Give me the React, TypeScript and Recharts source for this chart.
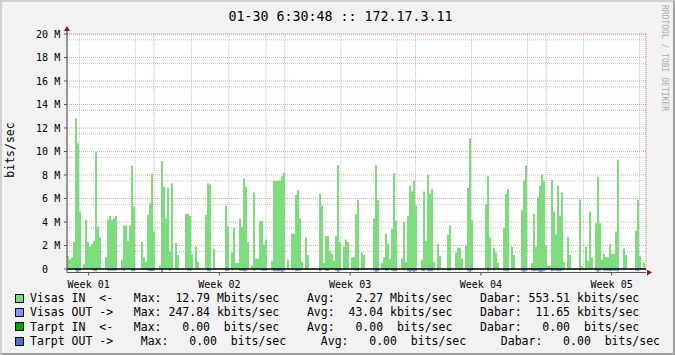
import {
  ComposedChart,
  Area,
  XAxis,
  YAxis,
  CartesianGrid,
  ReferenceLine,
  ReferenceDot,
  Legend,
  Label,
} from 'recharts';

// Visas IN, Mbits/sec, one value per ~2.5 h column
const visasIn = [
  1.1, 0.8, 1.0, 2.3, 12.8, 10.7, 4.9, 0, 0.4, 4.2,
  2.3, 1.9, 2.1, 2.4, 10.0, 3.6, 2.7, 0, 0, 1.0,
  4.2, 4.5, 4.2, 4.3, 4.5, 0, 0, 0.8, 3.7, 3.7,
  2.4, 3.7, 8.8, 5.3, 0, 0, 0, 2.3, 1.0, 0.6,
  4.6, 5.6, 8.1, 3.2, 0, 0, 0.3, 9.2, 7.0, 4.3,
  6.9, 1.5, 7.3, 0, 2.2, 1.2, 0, 0, 0, 4.7,
  4.7, 4.5, 1.3, 0, 1.9, 0.6, 0, 0, 0, 4.6,
  7.3, 7.2, 0, 1.7, 0, 0, 0, 0, 0, 5.4,
  3.6, 0, 1.4, 3.5, 0.5, 0.5, 4.3, 3.6, 7.7, 7.0,
  2.3, 0, 0.3, 6.5, 0.9, 0.9, 4.1, 4.1, 2.1, 2.5,
  0, 0, 0.7, 7.5, 7.5, 7.5, 7.5, 7.9, 8.2, 0,
  0.8, 0, 3.0, 3.0, 6.3, 6.7, 4.3, 0.6, 0, 2.7,
  1.2, 0, 0, 0, 0, 0, 6.4, 5.4, 0.5, 2.8,
  2.8, 1.5, 1.3, 0.7, 2.8, 8.85, 2.3, 0, 1.9, 2.5,
  2.3, 0, 1.0, 1.0, 4.65, 5.9, 0, 1.4, 1.2, 0,
  0, 0, 0, 4.3, 8.85, 5.9, 0, 0.5, 1.0, 3.0,
  2.1, 0.9, 3.4, 8.15, 4.1, 0, 0, 0.9, 4.0, 0.6,
  4.5, 7.1, 6.6, 7.5, 5.4, 0, 0, 0.8, 6.6, 2.4,
  8.0, 6.4, 6.8, 0.6, 0, 2.1, 1.1, 0, 0, 0,
  2.9, 3.7, 0.1, 0, 1.4, 1.8, 1.8, 0.9, 0, 2.0,
  6.9, 11.1, 4.2, 0.1, 0, 0, 0, 0, 0, 5.5,
  7.9, 2.7, 0, 1.8, 1.4, 0.5, 0, 0, 3.5, 6.4,
  6.8, 0, 1.9, 1.2, 0, 0, 0, 5.0, 7.5, 8.8,
  0, 0.1, 0.5, 4.7, 1.9, 6.1, 7.1, 8.05, 7.5, 2.0,
  0.25, 0.25, 7.6, 4.9, 2.95, 7.1, 4.5, 6.5, 0.6, 0,
  2.75, 1.2, 0, 0, 0, 0, 5.9, 0.25, 0, 1.9,
  0.7, 4.9, 1.0, 0, 3.9, 7.8, 3.9, 0.8, 1.3, 1.0,
  1.0, 2.1, 1.3, 1.3, 3.2, 9.3, 0, 0, 1.75, 1.2,
  0, 0, 0, 0, 3.25, 5.9, 1.1, 0, 0.5, 0,
];

// Visas OUT, Mbits/sec (drawn below the zero line)
const visasOut = [
  0, 0, 0, 0, 0.2, 0.25, 0.15, 0, 0, 0,
  0, 0, 0, 0.15, 0.2, 0, 0, 0, 0, 0,
  0.15, 0.15, 0.15, 0.15, 0.15, 0, 0, 0, 0.15, 0,
  0, 0, 0.2, 0.2, 0, 0, 0, 0, 0, 0,
  0.15, 0.2, 0.2, 0.15, 0, 0, 0, 0.25, 0, 0,
  0, 0.15, 0, 0, 0, 0.1, 0, 0, 0, 0,
  0.15, 0.15, 0, 0, 0, 0, 0, 0, 0, 0,
  0.2, 0.2, 0, 0, 0, 0, 0, 0, 0, 0.2,
  0.15, 0, 0.1, 0, 0, 0, 0.15, 0.15, 0.2, 0.2,
  0, 0, 0, 0.15, 0, 0, 0, 0.15, 0.15, 0.15,
  0, 0, 0, 0.2, 0.2, 0.2, 0.2, 0.25, 0.2, 0,
  0, 0, 0.1, 0, 0.2, 0.2, 0.15, 0, 0, 0,
  0, 0, 0, 0, 0, 0, 0.2, 0, 0, 0.15,
  0.15, 0, 0, 0, 0.15, 0.25, 0.15, 0, 0.1, 0,
  0, 0, 0, 0.1, 0.15, 0.2, 0, 0.1, 0, 0,
  0, 0, 0, 0.15, 0.25, 0.2, 0, 0, 0, 0.15,
  0.15, 0, 0.15, 0.2, 0.2, 0, 0, 0, 0.1, 0,
  0.2, 0.25, 0.2, 0.25, 0.2, 0, 0, 0.15, 0.2, 0,
  0.2, 0.2, 0.2, 0, 0, 0.1, 0, 0, 0, 0,
  0.15, 0.15, 0, 0, 0, 0, 0.1, 0, 0, 0,
  0.2, 0.25, 0.15, 0, 0, 0, 0, 0, 0, 0,
  0.2, 0, 0, 0.1, 0, 0, 0, 0, 0.15, 0.2,
  0.2, 0, 0.1, 0, 0, 0, 0, 0.2, 0.25, 0.2,
  0, 0, 0.15, 0.2, 0.15, 0.2, 0.25, 0.25, 0.2, 0,
  0, 0, 0.2, 0.15, 0.15, 0.2, 0.2, 0.15, 0, 0,
  0.1, 0, 0, 0, 0, 0, 0.15, 0, 0, 0.1,
  0, 0, 0, 0, 0.15, 0.25, 0.15, 0, 0.15, 0.15,
  0.15, 0.2, 0.15, 0.15, 0.15, 0.2, 0, 0, 0.1, 0,
  0, 0, 0, 0, 0.15, 0.2, 0, 0, 0, 0,
];

const weekLabels = ['Week 01', 'Week 02', 'Week 03', 'Week 04', 'Week 05'];
const weekLabelDays = [1.16, 8.16, 15.16, 22.16, 29.16];
const weekLineDays = [4.66, 11.66, 18.66, 25.66];
const yTicks = [0, 2, 4, 6, 8, 10, 12, 14, 16, 18, 20];

const legendNames = ['Visas IN  <-', 'Visas OUT ->', 'Tarpt IN  <-', 'Tarpt OUT ->'];
const legendColors = ['#7ddc7d', '#8396ff', '#00a800', '#5072c8'];
const maxVals = ['12.79', '247.84', '0.00', '0.00'];
const maxUnits = ['M', 'k', ' ', ' '];
const avgVals = ['2.27', '43.04', '0.00', '0.00'];
const avgUnits = ['M', 'k', ' ', ' '];
const nowVals = ['553.51', '11.65', '0.00', '0.00'];
const nowUnits = ['k', 'k', ' ', ' '];
const legendPad = [0, 0, 0, 1];

const MONO = "'DejaVu Sans Mono', monospace";
const STEP = 31 / 289.5; // days per column

const dayLines = Array.from({ length: 31 }, (_, k) => 0.66 + k).filter(
  (d) => !weekLineDays.some((w) => Math.abs(w - d) < 0.01)
);
const minorY = Array.from({ length: 40 }, (_, k) => 0.5 + k * 0.5).filter((v) => v % 2 !== 0);

const data = visasIn.map((v, i) => ({ t: i * STEP, in: v, out: -visasOut[i] }));

function legendRow(i: number) {
  const gap = ' '.repeat(4 + legendPad[i]);
  return (
    legendNames[i] +
    ' '.repeat(3 + legendPad[i]) +
    'Max: ' + maxVals[i].padStart(6) + ' ' + maxUnits[i] + 'bits/sec' + gap +
    'Avg: ' + avgVals[i].padStart(6) + ' ' + avgUnits[i] + 'bits/sec' + gap +
    'Dabar: ' + nowVals[i].padStart(6) + ' ' + nowUnits[i] + 'bits/sec'
  );
}

function ValueTick(props: any) {
  const { y, payload } = props;
  const v = payload.value;
  return (
    <g fontFamily={MONO} fontSize={10} fill="#000">
      <text x={48} y={y + 3.6} textAnchor="end">{v}</text>
      {v > 0 && <text x={54.3} y={y + 3.6}>M</text>}
    </g>
  );
}

function WeekTick(props: any) {
  const { x, payload } = props;
  const i = weekLabelDays.indexOf(payload.value);
  return (
    <text x={x} y={288} textAnchor="middle" fontFamily={MONO} fontSize={10} fill="#000">
      {weekLabels[i]}
    </text>
  );
}

function UpArrow(props: any) {
  const { cx, cy } = props;
  return (
    <g>
      <line x1={cx} y1={cy} x2={cx} y2={cy - 4} stroke="#333" />
      <path d={`M${cx - 3},${cy - 3} L${cx + 3},${cy - 3} L${cx},${cy - 8} Z`} fill="#801f1f" />
    </g>
  );
}

function RightArrow(props: any) {
  const { cx, cy } = props;
  return (
    <path d={`M${cx + 1},${cy - 3} L${cx + 1},${cy + 3} L${cx + 6},${cy} Z`} fill="#801f1f" />
  );
}

function LegendBlock() {
  return (
    <div style={{ fontFamily: MONO, fontSize: 11.5, color: '#000' }}>
      {legendNames.map((_, i) => (
        <div key={i} style={{ display: 'flex', alignItems: 'center', height: 14.33 }}>
          <div
            style={{
              marginLeft: 15,
              width: 9,
              height: 9,
              boxSizing: 'border-box',
              border: '1px solid #000',
              background: legendColors[i],
            }}
          />
          <div style={{ marginLeft: 6, whiteSpace: 'pre', lineHeight: '14.33px' }}>{legendRow(i)}</div>
        </div>
      ))}
    </div>
  );
}

export default function App() {
  return (
    <div
      style={{
        position: 'absolute',
        left: 0,
        top: 0,
        width: 675,
        height: 355,
        background: '#f2f2f2',
        overflow: 'hidden',
      }}
    >
      <ComposedChart
        width={675}
        height={355}
        data={data}
        margin={{ top: 34, right: 29, bottom: 62.5, left: 0 }}
      >
        <XAxis xAxisId="day" type="number" dataKey="t" domain={[0, 31]} ticks={dayLines} hide allowDataOverflow />
        <XAxis xAxisId="week" type="number" dataKey="t" domain={[0, 31]} ticks={weekLineDays} hide allowDataOverflow />
        <XAxis
          type="number"
          dataKey="t"
          domain={[0, 31]}
          ticks={weekLabelDays}
          interval={0}
          height={20}
          tickSize={3}
          tick={<WeekTick />}
          axisLine={{ stroke: '#555' }}
          tickLine={{ stroke: '#555' }}
          allowDataOverflow
        />
        <YAxis yAxisId="minor" type="number" domain={[-0.3, 20]} ticks={minorY} hide allowDataOverflow />
        <YAxis
          type="number"
          domain={[-0.3, 20]}
          ticks={yTicks}
          interval={0}
          width={67}
          tickSize={3}
          tick={<ValueTick />}
          axisLine={{ stroke: '#555' }}
          tickLine={{ stroke: '#555' }}
          allowDataOverflow
        >
          <Label
            content={() => (
              <text
                x={14}
                y={150}
                transform="rotate(-90 14 150)"
                textAnchor="middle"
                fontFamily={MONO}
                fontSize={11.5}
                fill="#000"
              >
                bits/sec
              </text>
            )}
          />
        </YAxis>
        <CartesianGrid
          xAxisId="day"
          yAxisId="minor"
          stroke="rgba(143,143,143,0.5)"
          strokeDasharray="1 1"
          fill="#ffffff"
        />
        <CartesianGrid xAxisId="week" stroke="rgba(222,79,79,0.5)" strokeDasharray="1 1" />
        <Area
          type="stepAfter"
          dataKey="in"
          name="Visas IN"
          stroke="none"
          fill={legendColors[0]}
          fillOpacity={1}
          isAnimationActive={false}
        />
        <Area
          type="stepAfter"
          dataKey="out"
          name="Visas OUT"
          stroke="none"
          fill={legendColors[1]}
          fillOpacity={1}
          isAnimationActive={false}
        />
        <ReferenceLine y={0} stroke="#000" strokeWidth={1.6} />
        <ReferenceDot x={0} y={20} r={0} ifOverflow="visible" shape={UpArrow} />
        <ReferenceDot x={31} y={-0.3} r={0} ifOverflow="visible" shape={RightArrow} />
        <Legend
          layout="horizontal"
          verticalAlign="middle"
          align="center"
          wrapperStyle={{ top: 291, left: 0, width: 675, margin: 0 }}
          content={() => <LegendBlock />}
        />
      </ComposedChart>
      <svg
        width={675}
        height={355}
        style={{ position: 'absolute', left: 0, top: 0, pointerEvents: 'none' }}
      >
        <text x={340.5} y={20.5} textAnchor="middle" fontFamily={MONO} fontSize={13.3} fill="#000">
          01-30 6:30:48 :: 172.17.3.11
        </text>
        <text
          x={661.5}
          y={5}
          transform="rotate(90 661.5 5)"
          fontFamily={MONO}
          fontSize={8}
          fill="#aaaaaa"
        >
          RRDTOOL / TOBI OETIKER
        </text>
      </svg>
      <div
        style={{
          position: 'absolute',
          inset: 0,
          boxSizing: 'border-box',
          borderStyle: 'solid',
          borderWidth: 2,
          borderColor: '#cfcfcf #9e9e9e #9e9e9e #cfcfcf',
          pointerEvents: 'none',
        }}
      />
    </div>
  );
}
